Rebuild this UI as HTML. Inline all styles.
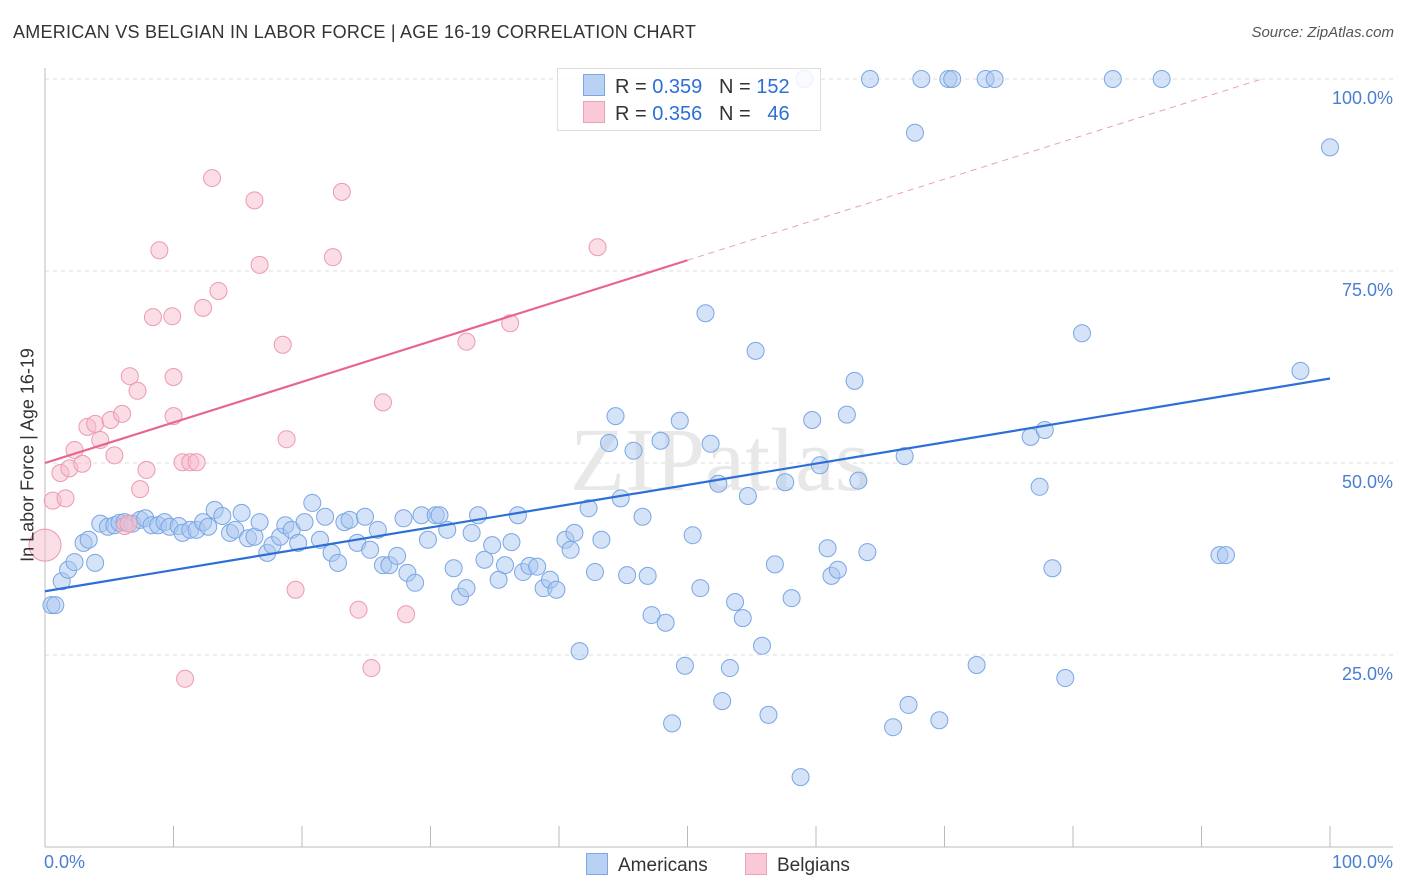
<!DOCTYPE html>
<html><head><meta charset="utf-8"><style>
body{margin:0;background:#fff;font-family:"Liberation Sans",sans-serif;}
#wrap{position:relative;width:1406px;height:892px;overflow:hidden;}
.t{position:absolute;white-space:nowrap;}
</style></head><body>
<div id="wrap">
<div class="t" style="left:13px;top:22px;font-size:18px;letter-spacing:0.25px;color:#333;">AMERICAN VS BELGIAN IN LABOR FORCE | AGE 16-19 CORRELATION CHART</div>
<div class="t" style="right:12px;top:24px;font-size:15px;color:#555;font-style:italic;">Source: ZipAtlas.com</div>
<svg id="svg" width="1406" height="892" style="position:absolute;left:0;top:0"></svg>
</div>
<script>
const xTicks=[0,10,20,30,40,50,60,70,80,90,100];
const yTicks=[25,50,75,100];
const yTickLabels=["25.0%","50.0%","75.0%","100.0%"];
const amerX=[0.5,0.8,1.3,1.8,2.3,3.0,3.4,3.9,4.3,4.9,5.4,5.8,6.2,6.8,7.4,7.8,8.3,8.8,9.3,9.7,10.4,10.7,11.3,11.8,12.3,12.7,13.2,13.8,14.4,14.8,15.3,15.8,16.3,16.7,17.3,17.7,18.3,18.7,19.2,19.7,20.2,20.8,21.4,21.8,22.3,22.8,23.3,23.7,24.3,24.9,25.3,25.9,26.3,26.8,27.4,27.9,28.2,28.8,29.3,29.8,30.4,30.7,31.3,31.8,32.3,32.8,33.2,33.7,34.2,34.8,35.3,35.8,36.3,36.8,37.2,37.7,38.3,38.8,39.3,39.8,40.5,40.9,41.2,41.6,42.3,42.8,43.3,43.9,44.4,44.8,45.3,45.8,46.5,46.9,47.2,47.9,48.3,48.8,49.4,49.8,50.4,51.0,51.4,51.8,52.4,52.7,53.3,53.7,54.3,54.7,55.3,55.8,56.3,56.8,57.6,58.1,58.8,59.1,59.7,60.3,60.9,61.2,61.7,62.4,63.0,63.3,64.0,64.2,66.0,66.9,67.2,67.7,68.2,69.6,70.3,70.6,72.5,73.2,73.9,76.7,77.4,77.8,78.4,79.4,80.7,83.1,86.9,91.4,91.9,97.7,100];
const amerY=[31.5,31.5,34.6,36.1,37.1,39.6,40.0,37.0,42.1,41.7,41.9,42.2,42.3,42.1,42.6,42.8,41.9,41.9,42.3,41.7,41.8,40.9,41.3,41.3,42.3,41.7,43.9,43.1,40.9,41.3,43.5,40.2,40.4,42.3,38.3,39.3,40.4,41.9,41.3,39.6,42.3,44.8,40.0,43.0,38.3,37.0,42.3,42.6,39.6,43.0,38.7,41.3,36.7,36.7,37.9,42.8,35.7,34.4,43.2,40.0,43.2,43.2,41.3,36.3,32.6,33.7,40.9,43.2,37.4,39.3,34.8,36.7,39.7,43.2,35.8,36.6,36.5,33.7,34.8,33.5,40.0,38.7,40.9,25.5,44.1,35.8,40.0,52.6,56.1,45.4,35.4,51.6,43.0,35.3,30.2,52.9,29.2,16.1,55.5,23.6,40.6,33.7,69.5,52.5,47.3,19.0,23.3,31.9,29.8,45.7,64.6,26.2,17.2,36.8,47.5,32.4,9.1,100,55.6,49.7,38.9,35.3,36.1,56.3,60.7,47.7,38.4,100,15.6,50.9,18.5,93.0,100,16.5,100,100,23.7,100,100,53.4,46.9,54.3,36.3,22.0,66.9,100,100,38.0,38.0,62.0,91.1];
const belgX=[0.6,1.2,1.6,1.9,2.3,2.9,3.3,3.9,4.3,5.1,5.4,6.0,6.2,6.5,6.6,7.2,7.4,7.9,8.4,8.9,9.9,10.0,10.0,10.7,10.9,11.3,11.8,12.3,13.0,13.5,16.3,16.7,18.5,18.8,19.5,22.4,23.1,24.4,25.4,26.3,28.1,32.8,36.2,43.0];
const belgY=[45.1,48.7,45.4,49.3,51.7,49.9,54.7,55.1,53.0,55.6,51.0,56.4,41.8,42.1,61.3,59.4,46.6,49.1,69.0,77.7,69.1,61.2,56.1,50.1,21.9,50.1,50.1,70.2,87.1,72.4,84.2,75.8,65.4,53.1,33.5,76.8,85.3,30.9,23.3,57.9,30.3,65.8,68.2,78.1];
const amerTrend=[33.3,61.0];
const belgTrend=[50.0,102.8];
const L=45,R=1330,T=79,B=847;
const sx=v=>L+(R-L)*v/100, sy=v=>B-(B-T)*v/100;
const svg=document.getElementById('svg');const NS='http://www.w3.org/2000/svg';
function mk(tag,attrs,parent){const e=document.createElementNS(NS,tag);for(const k in attrs)e.setAttribute(k,attrs[k]);(parent||svg).appendChild(e);return e;}
yTicks.forEach((v,i)=>{
 const g=mk('line',{x1:L,x2:1393,y1:sy(v),y2:sy(v),stroke:'#ddd','stroke-dasharray':'4,4'});
 
 
 const t=mk('text',{x:1393,y:sy(v)+25,'text-anchor':'end','font-size':18,fill:'#4a7fd0','font-family':'Liberation Sans'});
 t.textContent=yTickLabels[i];
 
 
});
const ax=mk('line',{x1:L,x2:L,y1:68,y2:B,stroke:'#bbb'});


const bx=mk('line',{x1:L,x2:1393,y1:B,y2:B,stroke:'#bbb'});


xTicks.forEach(v=>{
 const tk=mk('line',{x1:sx(v),x2:sx(v),y1:826,y2:B,stroke:'#bbb'});
 
 
});
const wm=mk('text',{x:720,y:490,'text-anchor':'middle','font-size':90,fill:'#e8e8e8','font-family':'Liberation Serif'});
wm.textContent='ZIPatlas';


function pts(xs,ys,fill,stroke,name){xs.forEach((x,i)=>{
 const c=mk('circle',{cx:sx(x),cy:sy(ys[i]),r:8.5,fill:fill,'fill-opacity':0.5,stroke:stroke,'stroke-width':1});
 
 
});}
pts(amerX,amerY,'#a9c8f0','#7aa6e4','american-point');
pts(belgX,belgY,'#f6bccb','#eb9ab2','belgian-point');
const big=mk('circle',{cx:sx(0),cy:sy(39.3),r:16,fill:'#f6bccb','fill-opacity':0.5,stroke:'#eb9ab2'});


const at=mk('line',{x1:sx(0),y1:sy(amerTrend[0]),x2:sx(100),y2:sy(amerTrend[1]),stroke:'#2d6fd6','stroke-width':2.2});


const bAt=x=>belgTrend[0]+(belgTrend[1]-belgTrend[0])*x/100;
const xEnd=(100-belgTrend[0])/(belgTrend[1]-belgTrend[0])*100;
const bt=mk('line',{x1:sx(0),y1:sy(bAt(0)),x2:sx(50),y2:sy(bAt(50)),stroke:'#e8668e','stroke-width':2.2});


const bd=mk('line',{x1:sx(50),y1:sy(bAt(50)),x2:sx(xEnd),y2:sy(100),stroke:'#e8a0b5','stroke-width':1,'stroke-dasharray':'6,5'});


</script>
<div class="t" style="left:557px;top:68px;width:262px;height:61px;border:1px solid #ddd;background:rgba(255,255,255,0.85);"></div>
<div class="t" style="left:583px;top:74px;font-size:20px;color:#333;">
<span style="display:inline-block;width:20px;height:20px;background:#b9d2f3;border:1px solid #7ea7e2;vertical-align:-3px;margin-right:10px"></span>R = <span style="color:#2d6fd6">0.359</span>&nbsp;&nbsp;&nbsp;N = <span style="color:#2d6fd6">152</span></div>
<div class="t" style="left:583px;top:101px;font-size:20px;color:#333;">
<span style="display:inline-block;width:20px;height:20px;background:#fac8d6;border:1px solid #eba3b8;vertical-align:-3px;margin-right:10px"></span>R = <span style="color:#2d6fd6">0.356</span>&nbsp;&nbsp;&nbsp;N = &nbsp;&nbsp;<span style="color:#2d6fd6">46</span></div>
<div class="t" style="left:28px;top:455px;font-size:18px;color:#333;transform:translate(-50%,-50%) rotate(-90deg);">In Labor Force | Age 16-19</div>
<div class="t" style="left:44px;top:852px;font-size:18px;color:#4a7fd0;">0.0%</div>
<div class="t" style="right:13px;top:852px;font-size:18px;color:#4a7fd0;">100.0%</div>
<div class="t" style="left:586px;top:853px;font-size:19px;color:#333;"><span style="display:inline-block;width:20px;height:20px;background:#b9d2f3;border:1px solid #7ea7e2;vertical-align:-4px;margin-right:10px"></span>Americans</div>
<div class="t" style="left:745px;top:853px;font-size:19px;color:#333;"><span style="display:inline-block;width:20px;height:20px;background:#fac8d6;border:1px solid #eba3b8;vertical-align:-4px;margin-right:10px"></span>Belgians</div>
</body></html>
